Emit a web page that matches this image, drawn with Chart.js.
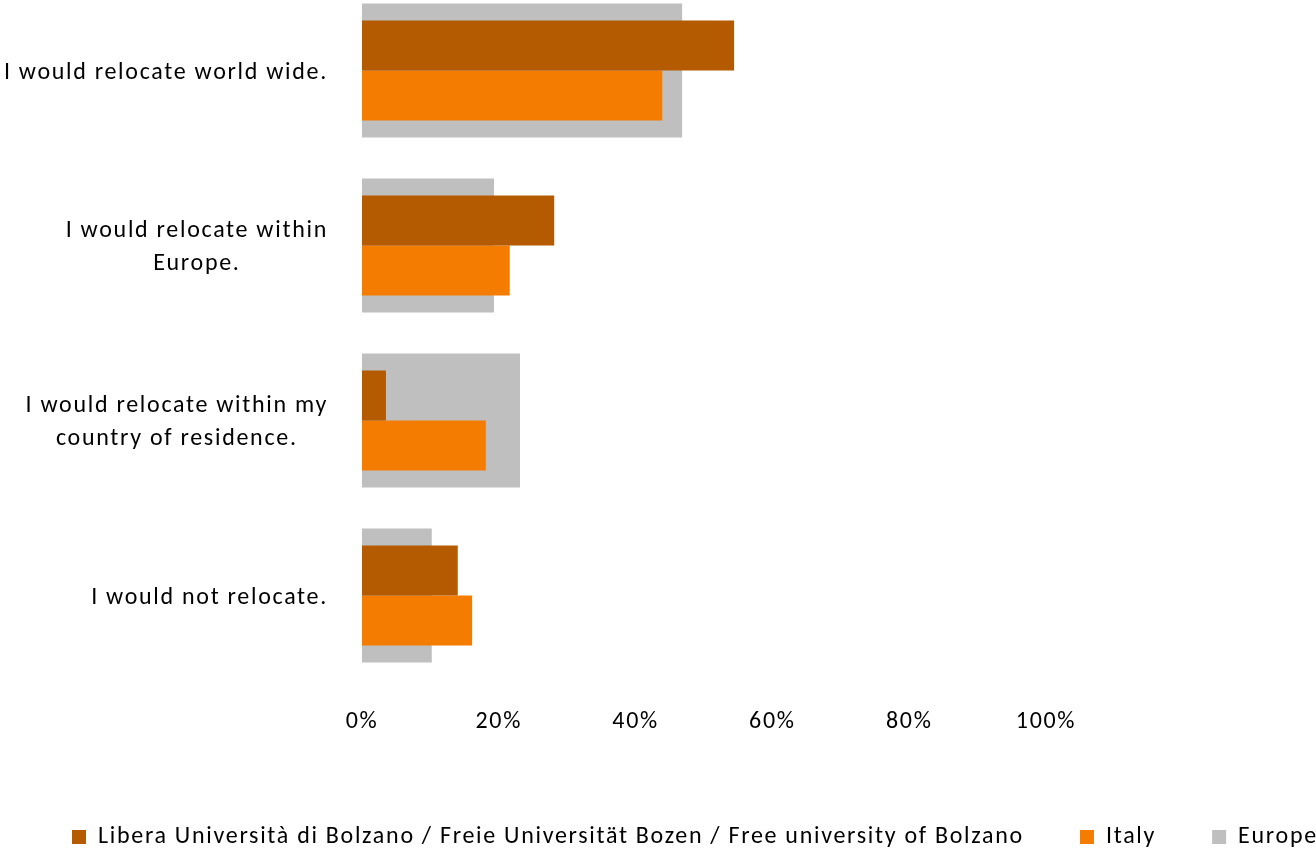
<!DOCTYPE html>
<html>
<head>
<meta charset="utf-8">
<script src="https://cdn.jsdelivr.net/npm/chart.js@4/dist/chart.umd.min.js"></script>
<style>
  html, body { margin: 0; padding: 0; background: #fff; overflow: hidden; }
  #wrap { position: absolute; left: 0; top: -17px; width: 1316px; height: 868px; }
</style>
</head>
<body>
<div id="wrap"><canvas id="chart"></canvas></div>
<script>
const categories = [
  ['I would relocate world wide.'],
  ['I would relocate within', 'Europe.'],
  ['I would relocate within my', 'country of residence.'],
  ['I would not relocate.']
]
const bolzano = [54.4, 28.1, 3.5, 14.0]
const italy = [43.9, 21.6, 18.1, 16.1]
const europe = [46.8, 19.3, 23.1, 10.2]
const xTicks = [0, 20, 40, 60, 80, 100]

const FONT = 'Carlito, Calibri, Lato, sans-serif'
const SPACING = '1.7px'

// the office export has loose letter spacing, canvas state is reset on resize so set it again
const spacing = {
  id: 'spacing',
  beforeLayout(chart) { chart.ctx.letterSpacing = SPACING },
  beforeDraw(chart) { chart.ctx.letterSpacing = SPACING }
}

// y labels: right aligned block, lines centered inside it
const yLabels = {
  id: 'yLabels',
  afterDraw(chart) {
    const { ctx, chartArea, scales } = chart
    ctx.save()
    ctx.font = '24px ' + FONT
    ctx.letterSpacing = SPACING
    ctx.fillStyle = '#000'
    ctx.textAlign = 'center'
    ctx.textBaseline = 'middle'
    const right = chartArea.left - 34
    categories.forEach((lines, i) => {
      const w = Math.max(...lines.map(l => ctx.measureText(l).width))
      const yc = scales.y.getPixelForTick(i) + 2
      lines.forEach((l, j) => {
        ctx.fillText(l, right - w / 2, yc + (j - (lines.length - 1) / 2) * 33)
      })
    })
    ctx.restore()
  }
}

new Chart(document.getElementById('chart'), {
  type: 'bar',
  data: {
    labels: categories,
    datasets: [
      {
        label: 'Libera Università di Bolzano / Freie Universität Bozen / Free university of Bolzano',
        data: bolzano,
        backgroundColor: '#B45A00',
        categoryPercentage: 0.571,
        barPercentage: 1
      },
      {
        label: 'Italy',
        data: italy,
        backgroundColor: '#F47C00',
        categoryPercentage: 0.571,
        barPercentage: 1
      },
      {
        label: 'Europe',
        data: europe,
        backgroundColor: '#BFBFBF',
        grouped: false,
        categoryPercentage: 0.766,
        barPercentage: 1
      }
    ]
  },
  options: {
    indexAxis: 'y',
    responsive: true,
    maintainAspectRatio: false,
    animation: false,
    // legend runs nearly to the right edge, so give it room past the canvas
    layout: { padding: { left: 16, right: -200 } },
    plugins: {
      tooltip: { enabled: false },
      legend: {
        position: 'bottom',
        align: 'start',
        maxHeight: 82,
        labels: {
          boxWidth: 14,
          boxHeight: 14,
          padding: 56,
          color: '#000',
          font: { family: FONT, size: 24 }
        }
      }
    },
    scales: {
      x: {
        min: 0,
        max: 100,
        grid: { display: false, drawTicks: false },
        border: { display: false },
        afterBuildTicks: s => { s.ticks = xTicks.map(v => ({ value: v })) },
        ticks: {
          padding: 25,
          color: '#000',
          font: { family: FONT, size: 24 },
          callback: v => v + '%'
        },
        afterFit: s => { s.height = 86; s.paddingRight = 270 }
      },
      y: {
        grid: { display: false, drawTicks: false },
        border: { display: false },
        ticks: { display: false },
        afterFit: s => { s.width = 346; s.paddingTop = 0; s.paddingBottom = 0 }
      }
    }
  },
  plugins: [spacing, yLabels]
})
</script>
</body>
</html>
